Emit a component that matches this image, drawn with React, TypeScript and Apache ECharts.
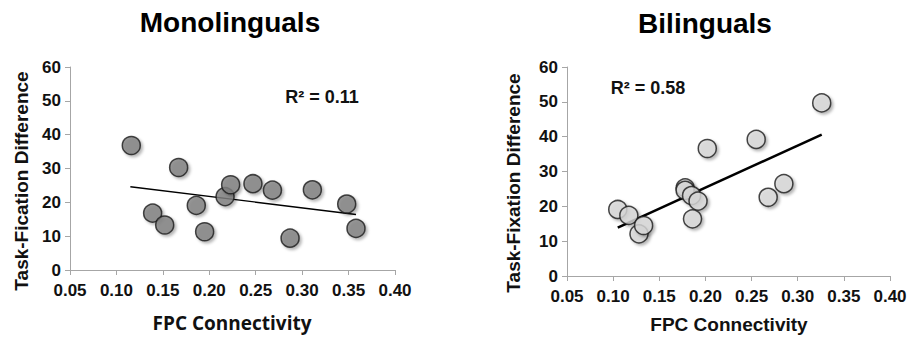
import React, { useEffect, useRef } from "react";
import * as echarts from "echarts";

const xTicks = ["0.05", "0.10", "0.15", "0.20", "0.25", "0.30", "0.35", "0.40"];
const yTicks = ["0", "10", "20", "30", "40", "50", "60"];

const monoX = [0.116, 0.139, 0.152, 0.167, 0.186, 0.195, 0.217, 0.223, 0.247, 0.268, 0.287, 0.311, 0.348, 0.358];
const monoY = [36.8, 16.8, 13.3, 30.3, 19.1, 11.3, 21.7, 25.2, 25.5, 23.6, 9.4, 23.7, 19.5, 12.3];
const monoTrendX = [0.115, 0.358];
const monoTrendY = [24.6, 16.4];

const biX = [0.105, 0.117, 0.128, 0.133, 0.178, 0.178, 0.185, 0.192, 0.186, 0.202, 0.255, 0.268, 0.285, 0.326];
const biY = [19.1, 17.4, 12.1, 14.5, 25.3, 24.6, 23.1, 21.5, 16.4, 36.6, 39.2, 22.6, 26.5, 49.7];
const biTrendX = [0.105, 0.326];
const biTrendY = [13.9, 40.6];

const titles = ["Monolinguals", "Bilinguals"];
const yTitles = ["Task-Fication Difference", "Task-Fixation Difference"];
const xTitle = "FPC Connectivity";
const r2 = ["R² = 0.11", "R² = 0.58"];

const FONT = "'Liberation Sans', Arial, Helvetica, sans-serif";

function zip(a: number[], b: number[]) {
  return a.map((v, i) => [v, b[i]]);
}

export default function App() {
  const ref = useRef<HTMLDivElement>(null);
  useEffect(() => {
    document.body.style.margin = "0";
    if (!ref.current) return;
    const chart = echarts.init(ref.current, null, { renderer: "svg" });
    const axisColor = "#a6a6a6";
    const xAxisBase = (gridIndex: number) => ({
      type: "value",
      gridIndex,
      min: 0.05,
      max: 0.4,
      interval: 0.05,
      axisLine: { show: true, lineStyle: { color: axisColor, width: 1 } },
      axisTick: { show: true, inside: false, length: 5, lineStyle: { color: axisColor } },
      splitLine: { show: false },
      axisLabel: {
        margin: 12,
        color: "#111",
        fontFamily: FONT,
        fontWeight: "bold",
        fontSize: 17,
        formatter: (v: number) => xTicks[Math.round((v - 0.05) / 0.05)] ?? "",
      },
    });
    const yAxisBase = (gridIndex: number) => ({
      type: "value",
      gridIndex,
      min: 0,
      max: 60,
      interval: 10,
      axisLine: { show: true, lineStyle: { color: axisColor, width: 1 } },
      axisTick: { show: true, inside: false, length: 5, lineStyle: { color: axisColor } },
      splitLine: { show: false },
      axisLabel: {
        margin: 9,
        color: "#111",
        fontFamily: FONT,
        fontWeight: "bold",
        fontSize: 17,
        formatter: (v: number) => yTicks[Math.round(v / 10)] ?? "",
      },
    });
    const markerStyle = (fill: string) => ({
      color: fill,
      borderColor: "#1a1a1a",
      borderWidth: 1.5,
      shadowBlur: 3,
      shadowOffsetX: 2,
      shadowOffsetY: 2,
      shadowColor: "rgba(0,0,0,0.35)",
    });
    chart.setOption({
      animation: false,
      backgroundColor: "#ffffff",
      grid: [
        { left: 70, top: 67, width: 325, height: 203 },
        { left: 567, top: 67, width: 323, height: 209 },
      ],
      xAxis: [xAxisBase(0), xAxisBase(1)],
      yAxis: [yAxisBase(0), yAxisBase(1)],
      series: [
        {
          type: "line",
          xAxisIndex: 0,
          yAxisIndex: 0,
          data: zip(monoTrendX, monoTrendY),
          symbol: "none",
          lineStyle: { color: "#000", width: 1.3 },
          z: 1,
        },
        {
          type: "scatter",
          xAxisIndex: 0,
          yAxisIndex: 0,
          data: zip(monoX, monoY),
          symbol: "circle",
          symbolSize: 18,
          itemStyle: markerStyle("#7f7f7f"),
          z: 2,
        },
        {
          type: "line",
          xAxisIndex: 1,
          yAxisIndex: 1,
          data: zip(biTrendX, biTrendY),
          symbol: "none",
          lineStyle: { color: "#000", width: 2.6 },
          z: 1,
        },
        {
          type: "scatter",
          xAxisIndex: 1,
          yAxisIndex: 1,
          data: zip(biX, biY),
          symbol: "circle",
          symbolSize: 18,
          itemStyle: markerStyle("#d9d9d9"),
          z: 2,
        },
      ],
      graphic: [
        {
          type: "text",
          x: 230,
          y: 22,
          style: { text: titles[0], font: `bold 28px ${FONT}`, fill: "#000", align: "center", verticalAlign: "middle" },
        },
        {
          type: "text",
          x: 705,
          y: 23,
          style: { text: titles[1], font: `bold 28px ${FONT}`, fill: "#000", align: "center", verticalAlign: "middle" },
        },
        {
          type: "text",
          x: 21,
          y: 181,
          rotation: Math.PI / 2,
          style: { text: yTitles[0], font: `bold 19px ${FONT}`, fill: "#111", align: "center", verticalAlign: "middle" },
        },
        {
          type: "text",
          x: 513,
          y: 183,
          rotation: Math.PI / 2,
          style: { text: yTitles[1], font: `bold 19px ${FONT}`, fill: "#111", align: "center", verticalAlign: "middle" },
        },
        {
          type: "text",
          x: 232,
          y: 323,
          style: { text: xTitle, font: `bold 19px 'Open Sans', ${FONT}`, fill: "#111", align: "center", verticalAlign: "middle" },
        },
        {
          type: "text",
          x: 729,
          y: 324,
          style: { text: xTitle, font: `bold 19px ${FONT}`, fill: "#111", align: "center", verticalAlign: "middle" },
        },
        {
          type: "text",
          x: 322,
          y: 97,
          style: { text: r2[0], font: `bold 18px ${FONT}`, fill: "#111", align: "center", verticalAlign: "middle" },
        },
        {
          type: "text",
          x: 648,
          y: 88,
          style: { text: r2[1], font: `bold 18px ${FONT}`, fill: "#111", align: "center", verticalAlign: "middle" },
        },
      ],
    });
    return () => chart.dispose();
  }, []);
  return <div ref={ref} style={{ width: 911, height: 337 }} />;
}
